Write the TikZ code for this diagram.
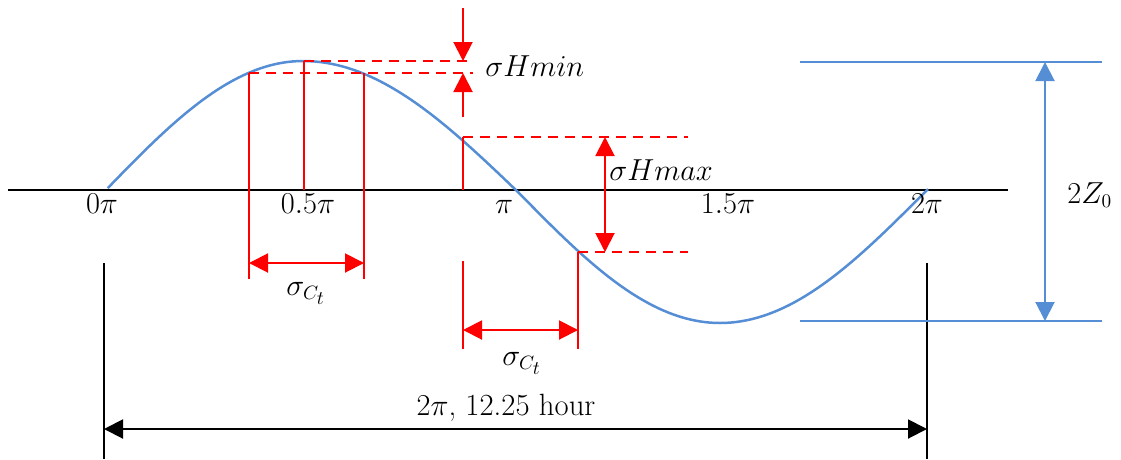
\documentclass[tikz,border=0pt]{standalone}
\usepackage{amsmath}
\usetikzlibrary{arrows.meta}
\definecolor{curveblue}{RGB}{85,142,213}
\tikzset{
  curve/.style={curveblue, line width=0.5mm},
  blueline/.style={curveblue, line width=0.4mm},
  redline/.style={red, line width=0.4mm},
  reddash/.style={red, line width=0.4mm, dash pattern=on 2mm off 1.4mm},
  blackline/.style={black, line width=0.4mm},
  tiparrow/.style={-{Triangle[length=3.8mm,width=3.8mm]}},
  dimarrow/.style={{Triangle[length=3.8mm,width=3.8mm]}-{Triangle[length=3.8mm,width=3.8mm]}},
  lab/.style={font=\fontsize{16}{19}\selectfont, inner sep=0pt},
  biglab/.style={font=\fontsize{17.5}{21}\selectfont, inner sep=0pt}
}
\begin{document}
\begin{tikzpicture}[x=0.2mm, y=-0.2mm]
\useasboundingbox (0,0) rectangle (1121,459);

%% ---- axis and wave ----
\coordinate (axisL) at (8,190);
\coordinate (axisR) at (1008,190);
\draw[blackline] (axisL) -- (axisR);
\draw[curve]
  plot[domain=1.7:90, samples=40] ({104+\x/90*199},{192-131*sin(\x)})
  -- plot[domain=0:90, samples=40] ({303+\x/90*215},{192-131*cos(\x)})
  -- plot[domain=0:90, samples=40] ({518+\x/90*202},{192+131*sin(\x)})
  -- plot[domain=0:91.3, samples=40] ({720+\x/91.3*208},{192+131*cos(\x)});

\node[lab, anchor=base] (p0)  at (102,213) {$0\pi$};
\node[lab, anchor=base] (p05) at (308,213) {$0.5\pi$};
\node[lab, anchor=base] (p1)  at (504,213) {$\pi$};
\node[lab, anchor=base] (p15) at (728,213) {$1.5\pi$};
\node[lab, anchor=base] (p2)  at (927,213) {$2\pi$};

%% ---- sigma C_t near the crest ----
\coordinate (lt) at (249,73);  \coordinate (lb) at (249,279);
\coordinate (mt) at (304,61);  \coordinate (mb) at (304,190);
\coordinate (rt) at (364,73);  \coordinate (rb) at (364,279);
\draw[redline] (lt) -- (lb);
\draw[redline] (mt) -- (mb);
\draw[redline] (rt) -- (rb);
\coordinate (ctA) at (249,263); \coordinate (ctB) at (364,263);
\draw[redline, dimarrow] (ctA) -- (ctB);
\node[lab, anchor=base] (ct1) at (306,295) {$\sigma_{C_{\scriptstyle t}}$};

%% ---- sigma Hmin ----
\coordinate (hminA) at (473,61);
\coordinate (hminB) at (473,73);
\draw[reddash] (mt) -- (hminA);
\draw[reddash] (lt) -- (hminB);
\coordinate (hs1) at (463,8);   \coordinate (he1) at (463,61);
\coordinate (hs2) at (463,117); \coordinate (he2) at (463,73);
\draw[redline, tiparrow] (hs1) -- (he1);
\draw[redline, tiparrow] (hs2) -- (he2);
\node[lab, anchor=base west] (hmin) at (485,76) {$\sigma Hmin$};

%% ---- sigma Hmax and second sigma C_t ----
\coordinate (qt)  at (463,137); \coordinate (qb)  at (463,190);
\coordinate (qt2) at (463,261); \coordinate (qb2) at (463,349);
\coordinate (ut)  at (578,252); \coordinate (ub)  at (578,349);
\draw[redline] (qt) -- (qb);
\draw[redline] (qt2) -- (qb2);
\draw[redline] (ut) -- (ub);
\coordinate (hmaxA) at (688,137);
\coordinate (hmaxB) at (688,252);
\draw[reddash] (qt) -- (hmaxA);
\draw[reddash] (ut) -- (hmaxB);
\coordinate (hxA) at (605,137); \coordinate (hxB) at (605,252);
\draw[redline, dimarrow] (hxA) -- (hxB);
\node[lab, anchor=base west] (hmax) at (609,180) {$\sigma Hmax$};
\coordinate (cuA) at (463,330); \coordinate (cuB) at (578,330);
\draw[redline, dimarrow] (cuA) -- (cuB);
\node[lab, anchor=base] (ct2) at (522,365) {$\sigma_{C_{\scriptstyle t}}$};

%% ---- period ----
\coordinate (kLt) at (104,263); \coordinate (kLb) at (104,459);
\coordinate (kRt) at (927,263); \coordinate (kRb) at (927,459);
\draw[blackline] (kLt) -- (kLb);
\draw[blackline] (kRt) -- (kRb);
\coordinate (perA) at (104,429); \coordinate (perB) at (927,429);
\draw[blackline, dimarrow] (perA) -- (perB);
\node[biglab, anchor=base] (per) at (506,415) {$2\pi$, 12.25 hour};

%% ---- amplitude ----
\coordinate (zA1) at (800,62);  \coordinate (zA2) at (1102,62);
\coordinate (zB1) at (800,321); \coordinate (zB2) at (1102,321);
\draw[blueline] (zA1) -- (zA2);
\draw[blueline] (zB1) -- (zB2);
\coordinate (zt) at (1045,62); \coordinate (zb) at (1045,321);
\draw[blueline, dimarrow] (zt) -- (zb);
\node[lab, anchor=base west] (amp) at (1067,203) {$2Z_0$};
\end{tikzpicture}
\end{document}
